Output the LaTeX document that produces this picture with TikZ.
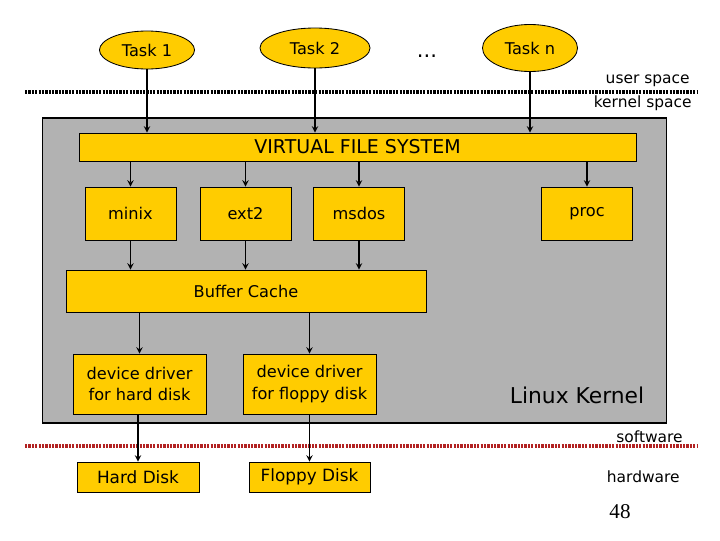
\documentclass[tikz,border=0pt]{standalone}
\usepackage{fontspec}
\setmainfont{DejaVu Sans}
\newfontfamily\pagenumfont{Liberation Serif}
\definecolor{FsYellow}{HTML}{FFCC00}
\definecolor{KernelGray}{HTML}{B2B2B2}
\definecolor{LineRed}{HTML}{B22222}
\usetikzlibrary{shapes.geometric, arrows.meta, positioning}
\tikzset{
  % Box styles
  taskbox/.style={ellipse, draw=black, line width=0.6pt, fill=FsYellow, inner sep=0pt, font=\fontsize{11.5}{13}\selectfont},
  fsbox/.style={rectangle, draw=black, line width=0.6pt, fill=FsYellow, inner sep=0pt, align=center, font=\fontsize{11.5}{15}\selectfont},
  kernelbox/.style={rectangle, draw=black, line width=0.8pt, fill=KernelGray, inner sep=0pt},
  % Arrow styles
  arrow/.style={->, >=stealth, line width=1pt, black},
  % Divider styles
  userline/.style={line width=2.2pt, black, dash pattern=on 1.6pt off 0.8pt},
  hwline/.style={line width=2.2pt, LineRed, dash pattern=on 1.6pt off 0.8pt},
  sidetext/.style={anchor=east, inner sep=0pt, font=\fontsize{11}{13}\selectfont}
}
\begin{document}
\begin{tikzpicture}[x=0.025cm, y=-0.025cm]
  \useasboundingbox (0,0) rectangle (720,540);

  % Tasks
  \node[taskbox, minimum width=2.375cm, minimum height=0.95cm] (t1) at (147,50) {Task 1};
  \node[taskbox, minimum width=2.75cm, minimum height=1cm] (t2) at (315,48) {Task 2};
  \node[font=\fontsize{15}{17}\selectfont] (dots) at (427,56) {...};
  \node[taskbox, minimum width=2.375cm, minimum height=1.175cm] (tn) at (530,48) {Task n};

  % user / kernel divider
  \coordinate (ul) at (25,92);
  \coordinate (ur) at (697,92);
  \draw[userline] (ul) -- (ur);
  \node[sidetext] (user) at (690,81) {user space};
  \node[sidetext] (kspace) at (692,103) {kernel space};

  % Kernel
  \node[kernelbox, minimum width=15.575cm, minimum height=7.625cm] (kernel) at (354.5,270.5) {};
  \node[font=\fontsize{15.5}{18}\selectfont] (linux) at (577,395) {Linux Kernel};

  \node[fsbox, minimum width=13.925cm, minimum height=0.7cm, font=\fontsize{13.5}{15}\selectfont] (vfs) at (357.5,147) {VIRTUAL FILE SYSTEM};

  \node[fsbox, minimum width=2.275cm, minimum height=1.325cm] (minix) at (130.5,213.5) {minix};
  \node[fsbox, minimum width=2.275cm, minimum height=1.325cm] (ext2) at (245.5,213.5) {ext2};
  \node[fsbox, minimum width=2.275cm, minimum height=1.325cm] (msdos) at (359,213.5) {msdos};
  \node[fsbox, minimum width=2.275cm, minimum height=1.325cm] (proc) at (587,213.5) {proc};

  \node[fsbox, minimum width=9cm, minimum height=1.05cm] (cache) at (246,291) {Buffer Cache};

  \node[fsbox, minimum width=3.325cm, minimum height=1.5cm] (hddrv) at (139.5,384) {device driver\\for hard disk};
  \node[fsbox, minimum width=3.325cm, minimum height=1.5cm] (fddrv) at (309.5,384) {device driver\\for floppy disk};

  % software / hardware divider
  \coordinate (rl) at (25,446);
  \coordinate (rr) at (697,446);
  \draw[hwline] (rl) -- (rr);
  \node[sidetext] (soft) at (683,437) {software};
  \node[sidetext] (hard) at (680,477) {hardware};

  % Disks
  \node[fsbox, minimum width=3.05cm, minimum height=0.75cm, font=\fontsize{12}{14}\selectfont] (hdd) at (138,477) {Hard Disk};
  \node[fsbox, minimum width=3.025cm, minimum height=0.75cm, font=\fontsize{12}{14}\selectfont] (fdd) at (309.5,477) {Floppy Disk};

  \node[font=\pagenumfont\fontsize{15}{17}\selectfont] (pagenum) at (620,512) {48};

  % Arrows
  \draw[arrow] (t1) -- (t1 |- vfs.north);
  \draw[arrow] (t2) -- (t2 |- vfs.north);
  \draw[arrow] (tn) -- (tn |- vfs.north);
  \foreach \fs in {minix, ext2, msdos, proc}
    \draw[arrow] (vfs.south -| \fs) -- (\fs);
  \foreach \fs in {minix, ext2, msdos}
    \draw[arrow] (\fs) -- (\fs |- cache.north);
  \draw[arrow] (cache.south -| hddrv) -- (hddrv);
  \draw[arrow] (cache.south -| fddrv) -- (fddrv);
  \draw[arrow] (hddrv.south -| hdd) -- (hdd);
  \draw[arrow] (fddrv.south -| fdd) -- (fdd);
\end{tikzpicture}
\end{document}
